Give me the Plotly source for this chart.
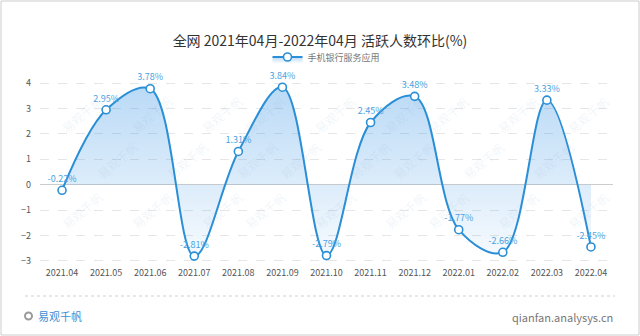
import plotly.graph_objects as go

months = ["2021.04", "2021.05", "2021.06", "2021.07", "2021.08", "2021.09", "2021.10",
          "2021.11", "2021.12", "2022.01", "2022.02", "2022.03", "2022.04"]
values = [-0.22, 2.95, 3.78, -2.81, 1.31, 3.84, -2.79, 2.45, 3.48, -1.77, -2.66, 3.33, -2.45]
series_name = "手机银行服务应用"
title_text = "全网 2021年04月-2022年04月 活跃人数环比(%)"
y_ticks = [-3, -2, -1, 0, 1, 2, 3, 4]

FONT = "Noto Sans CJK SC"
LINE = "#2a8fd6"
LABEL = "#4aa3e2"

W, H = 640, 336
ml, mr, mt, mb = 40, 27, 75, 70
pw, ph = W - ml - mr, H - mt - mb

def px(x):
    return (x - ml) / pw

def py(y):
    return (H - mb - y) / ph

fig = go.Figure()
fig.add_trace(go.Scatter(
    x=list(range(len(months))), y=values, name=series_name,
    mode="lines+markers+text",
    line=dict(color=LINE, width=2, shape="spline", smoothing=1.0),
    marker=dict(symbol="circle", size=8, color="white", line=dict(color=LINE, width=1.6)),
    text=[f"{v:.2f}%" for v in values], textposition="top center",
    textfont=dict(family=FONT, size=9, color=LABEL),
    fill="tozeroy",
    fillgradient=dict(type="vertical",
                      colorscale=[[0, "rgba(60,150,230,0.03)"], [1, "rgba(60,150,230,0.36)"]],
                      start=-3.2, stop=4.0),
    cliponaxis=False,
))

shapes = []
shapes.append(dict(type="line", xref="paper", yref="paper",
                   x0=px(25), x1=px(615), y0=py(296), y1=py(296),
                   line=dict(color="#cfcfcf", width=1, dash="dot")))
shapes.append(dict(type="rect", xref="paper", yref="paper",
                   x0=px(1), x1=px(639), y0=py(335), y1=py(1),
                   line=dict(color="#cccccc", width=1)))
shapes.append(dict(type="circle", xref="paper", yref="paper",
                   x0=px(25), x1=px(32), y0=py(319.5), y1=py(312.5),
                   line=dict(color="#9a9a9a", width=2)))

annotations = [
    dict(text="易观千帆", x=px(36), y=py(316), xref="paper", yref="paper",
         xanchor="left", yanchor="middle", showarrow=False,
         font=dict(family=FONT, size=11, color="#3a8fd6")),
    dict(text="qianfan.analysys.cn", x=px(615), y=py(317), xref="paper", yref="paper",
         xanchor="right", yanchor="middle", showarrow=False,
         font=dict(family=FONT, size=11, color="#777777")),
]
for row, yy in enumerate([90, 160, 235]):
    for col in range(10):
        xx = 55 + col * 70 + (35 if row == 1 else 0)
        if xx > 630:
            continue
        annotations.append(dict(text="易观千帆", x=px(xx), y=py(yy), xref="paper", yref="paper",
                                showarrow=False, textangle=-40,
                                font=dict(family=FONT, size=12, color="rgba(120,160,200,0.12)")))

fig.update_layout(
    width=W, height=H,
    margin=dict(l=ml, r=mr, t=mt, b=mb, autoexpand=False),
    paper_bgcolor="white", plot_bgcolor="white",
    title=dict(text=title_text, x=0.5, xanchor="center", y=1 - 41 / H, yanchor="middle",
               font=dict(family=FONT, size=14, color="#333333")),
    legend=dict(orientation="h", x=0.5, xanchor="center",
                y=py(57), yanchor="middle",
                font=dict(family=FONT, size=9, color="#777777")),
    xaxis=dict(range=[-0.5, len(months) - 0.5], tickmode="array",
               tickvals=list(range(len(months))), ticktext=months,
               showgrid=False, zeroline=False, showline=False, ticks="",
               tickfont=dict(family=FONT, size=9, color="#555555")),
    yaxis=dict(range=[-3.2, 4.32], tickmode="array", tickvals=y_ticks,
               showgrid=True, gridcolor="#e6e6e6", griddash="dash", gridwidth=1,
               zeroline=True, zerolinecolor="#cccccc", zerolinewidth=1,
               showline=False, ticks="", ticklabelstandoff=8,
               tickfont=dict(family=FONT, size=9, color="#555555")),
    shapes=shapes, annotations=annotations,
    showlegend=True,
)

fig.write_html("out.html", config={"displayModeBar": False},
               post_script="document.body.style.margin='0';document.body.style.padding='0';")
